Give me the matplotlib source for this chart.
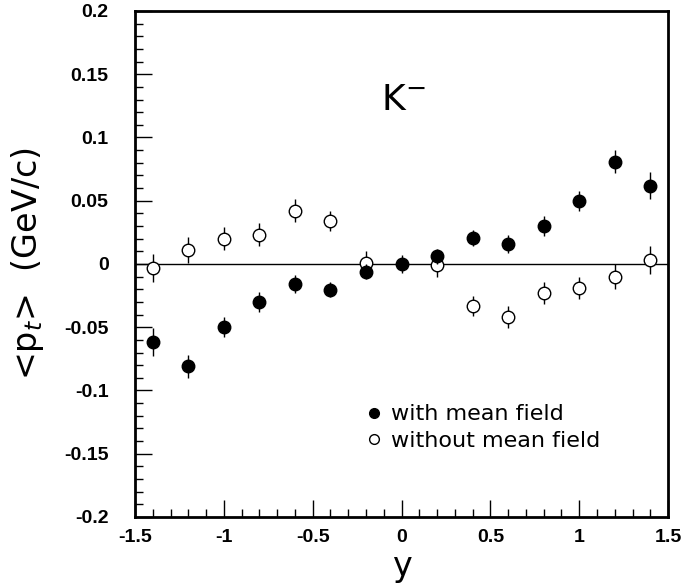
import matplotlib
matplotlib.use("Agg")
import matplotlib.pyplot as plt
from matplotlib.ticker import MultipleLocator
from matplotlib.lines import Line2D

rapidity = [-1.4, -1.2, -1.0, -0.8, -0.6, -0.4, -0.2, 0.0, 0.2, 0.4, 0.6, 0.8, 1.0, 1.2, 1.4]
with_mf = [-0.062, -0.081, -0.050, -0.030, -0.016, -0.0205, -0.006, 0.0, 0.006, 0.0205, 0.016, 0.030, 0.050, 0.081, 0.062]
with_mf_err = [0.011, 0.009, 0.008, 0.008, 0.007, 0.006, 0.006, 0.007, 0.006, 0.006, 0.007, 0.008, 0.008, 0.009, 0.011]
x_without = [-1.4, -1.2, -1.0, -0.8, -0.6, -0.4, -0.2, 0.2, 0.4, 0.6, 0.8, 1.0, 1.2, 1.4]
without_mf = [-0.003, 0.011, 0.020, 0.023, 0.042, 0.034, 0.001, -0.001, -0.033, -0.042, -0.023, -0.019, -0.010, 0.003]
without_mf_err = [0.011, 0.010, 0.009, 0.009, 0.009, 0.008, 0.009, 0.009, 0.008, 0.009, 0.009, 0.009, 0.010, 0.011]
xticks = [-1.5, -1, -0.5, 0, 0.5, 1, 1.5]
xtick_labels = ["-1.5", "-1", "-0.5", "0", "0.5", "1", "1.5"]
yticks = [-0.2, -0.15, -0.1, -0.05, 0, 0.05, 0.1, 0.15, 0.2]
ytick_labels = ["-0.2", "-0.15", "-0.1", "-0.05", "0", "0.05", "0.1", "0.15", "0.2"]

fig = plt.figure(figsize=(6.87, 5.87), dpi=100)
ax = fig.add_axes([0.1965, 0.1193, 0.7759, 0.862])

ax.axhline(0, color="black", lw=1.0, zorder=1)
ax.errorbar(rapidity, with_mf, yerr=with_mf_err, fmt="o", color="black",
            ms=9, elinewidth=1.0, capsize=0, zorder=3)
ax.errorbar(x_without, without_mf, yerr=without_mf_err, fmt="o", color="black",
            mfc="white", mec="black", mew=1.0, ms=9, elinewidth=1.0, capsize=0, zorder=2)

ax.set_xlim(-1.5, 1.5)
ax.set_ylim(-0.2, 0.2)
ax.set_xticks(xticks)
ax.set_xticklabels(xtick_labels, fontweight="bold", fontsize=14, family="Liberation Sans")
ax.set_yticks(yticks)
ax.set_yticklabels(ytick_labels, fontweight="bold", fontsize=14, family="Liberation Sans")
ax.xaxis.set_minor_locator(MultipleLocator(0.1))
ax.yaxis.set_minor_locator(MultipleLocator(0.01))
ax.tick_params(which="both", direction="in", top=False, right=False, width=1.0, color="black")
ax.tick_params(which="major", length=12)
ax.tick_params(axis="y", which="major", pad=19)
ax.tick_params(axis="x", which="major", pad=9)
ax.tick_params(which="minor", length=5.5)

for sp in ax.spines.values():
    sp.set_linewidth(2.0)

ax.set_ylabel(r"<p$_t$>  (GeV/c)", fontsize=24, family="DejaVu Sans")
ax.yaxis.set_label_coords(-0.167, 0.5)
ax.set_xlabel("y", fontsize=24, family="DejaVu Sans")
ax.xaxis.set_label_coords(0.5, -0.066)

ax.text(0.01, 0.13, r"K$^{-}$", fontsize=26, ha="center", va="center", family="DejaVu Sans")

handles = [Line2D([], [], ls="none", marker="o", color="black", ms=7),
           Line2D([], [], ls="none", marker="o", mfc="white", mec="black", mew=1.0, ms=7)]
ax.legend(handles, ["with mean field", "without mean field"], loc="upper left",
          bbox_to_anchor=(0.41, 0.24), frameon=False, fontsize=16,
          handletextpad=0.3, handlelength=1.0, labelspacing=0.28, borderaxespad=0)

fig.savefig("out.png", dpi=100)
